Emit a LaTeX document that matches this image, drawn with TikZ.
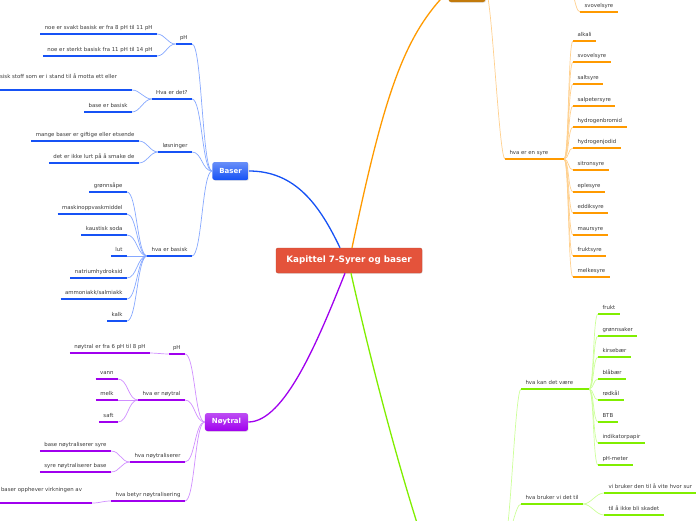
\documentclass[tikz,border=0pt]{standalone}
\usepackage{fontspec}
\setmainfont{DejaVu Sans}
\usepackage{xcolor}
\usepackage{tikz}
\usetikzlibrary{positioning,shadows}

\definecolor{ink}{HTML}{3A3A3A}
\definecolor{rootred}{HTML}{E4533B}
\definecolor{basblue}{HTML}{1652F5}
\definecolor{baslite}{HTML}{86A8FF}
\definecolor{noypurp}{HTML}{A000EE}
\definecolor{noylite}{HTML}{D08EFF}
\definecolor{syreorg}{HTML}{FF9A00}
\definecolor{syrelite}{HTML}{FFD08E}
\definecolor{syredark}{HTML}{C27A0C}
\definecolor{indgreen}{HTML}{80EE00}
\definecolor{indlite}{HTML}{CCFF99}

\begin{document}
\begin{tikzpicture}[
  x=1pt, y=-1pt,
  font=\fontsize{5.4}{6.5}\selectfont,
  root/.style={
    rectangle, rounded corners=2pt, fill=rootred, draw=rootred!85!black,
    line width=0.4pt, text=white, font=\bfseries\fontsize{8.8}{10}\selectfont,
    minimum width=146pt, minimum height=25pt, inner sep=0pt,
    drop shadow={opacity=0.2, shadow xshift=0.6pt, shadow yshift=-0.8pt}
  },
  mainbox/.style={
    rectangle, rounded corners=2.5pt, text=white,
    font=\bfseries\fontsize{7}{8}\selectfont,
    minimum height=18pt, inner xsep=7pt, inner ysep=0pt,
    drop shadow={opacity=0.2, shadow xshift=0.6pt, shadow yshift=-0.8pt}
  },
  topic/.style={
    text=ink, inner xsep=4.5pt, inner ysep=3.6pt,
    text height=4.1pt, text depth=1.3pt, outer sep=0pt
  },
  wide/.style={text depth=7.6pt, inner xsep=#1},
  fanl/.style={to path={.. controls +(-#1,0) and +(#1,0) .. (\tikztotarget)}},
  fanl/.default=10,
  fanr/.style={to path={.. controls +(#1,0) and +(-#1,0) .. (\tikztotarget)}},
  fanr/.default=6,
  ul/.style={line width=2.2pt, draw=#1},
  twig/.style={line width=0.7pt, draw=#1},
  branch/.style={line width=1.3pt, draw=#1}
]
  \useasboundingbox (0,0) rectangle (696,520);
  \clip (0,0) rectangle (696,520);

  %% centre and main topics
  \node[root] (root) at (349,260.5) {Kapittel 7-Syrer og baser};
  \node[mainbox, top color=basblue!65!white, bottom color=basblue] (baser) at (230.5,171) {Baser};
  \node[mainbox, top color=noypurp!70!white, bottom color=noypurp] (noyt) at (226.5,422) {Nøytral};
  \node[mainbox, fill=syredark, minimum width=37pt, minimum height=22pt] (syrer) at (467,-9) {};
  \node[mainbox, fill=indgreen, minimum width=84pt, minimum height=20pt] (indik) at (462,542) {};

  \draw[branch=basblue] ([xshift=-9pt]root.north) .. controls (320,206) and (296,171) .. (baser.east);
  \draw[branch=noypurp] ([xshift=-4pt]root.south) .. controls (319,338) and (285,422) .. (noyt.east);
  \draw[branch=syreorg] ([xshift=3pt]root.north) .. controls (385,90) and (405,35) .. (syrer.west);
  \draw[branch=indgreen] ([xshift=2pt]root.south) .. controls (375,380) and (400,470) .. (indik.north west);

  %% Baser
  \node[topic, anchor=south east] (bph) at (192,44) {pH};
  \node[topic, anchor=south east] (bsvak) at (157,34) {noe er svakt basisk er fra 8 pH til 11 pH};
  \node[topic, anchor=south east] (bsterk) at (157,56) {noe er sterkt basisk fra 11 pH til 14 pH};
  \node[topic, anchor=south east] (bdet) at (192,99) {Hva er det?};
  \node[topic, wide=15pt, anchor=south east] (bstoff) at (132,90) {basisk stoff som er i stand til å motta ett eller};
  \node[topic, anchor=south east] (bbasisk) at (132,112) {base er basisk};
  \node[topic, anchor=south east] (blos) at (192,152) {løsninger};
  \node[topic, anchor=south east] (bgift) at (139,141) {mange baser er giftige eller etsende};
  \node[topic, anchor=south east] (bsmak) at (139,163) {det er ikke lurt på å smake de};
  \node[topic, anchor=south east] (bhva) at (192,256) {hva er basisk};
  \node[topic, anchor=south east] (b1) at (127,192) {grønnsåpe};
  \node[topic, anchor=south east] (b2) at (127,214) {maskinoppvaskmiddel};
  \node[topic, anchor=south east] (b3) at (127,235) {kaustisk soda};
  \node[topic, anchor=south east] (b4) at (127,256) {lut};
  \node[topic, anchor=south east] (b5) at (127,278) {natriumhydroksid};
  \node[topic, anchor=south east] (b6) at (127,299) {ammoniakk/salmiakk};
  \node[topic, anchor=south east] (b7) at (127,321) {kalk};

  \foreach \n in {bph,bdet,blos,bhva} \draw[twig=baslite] (baser.west) to[fanl] (\n.south east);
  \foreach \n in {bsvak,bsterk} \draw[twig=baslite] (bph.south west) to[fanl=8] (\n.south east);
  \foreach \n in {bstoff,bbasisk} \draw[twig=baslite] (bdet.south west) to[fanl=8] (\n.south east);
  \foreach \n in {bgift,bsmak} \draw[twig=baslite] (blos.south west) to[fanl=8] (\n.south east);
  \foreach \n in {b1,b2,b3,b4,b5,b6,b7} \draw[twig=baslite] (bhva.south west) to[fanl] (\n.south east);
  \foreach \n in {bph,bsvak,bsterk,bdet,bstoff,bbasisk,blos,bgift,bsmak,bhva,b1,b2,b3,b4,b5,b6,b7}
    \draw[ul=basblue] (\n.south west) -- (\n.south east);

  %% Nøytral
  \node[topic, anchor=south east] (nph) at (185,354) {pH};
  \node[topic, anchor=south east] (nfra) at (150,353) {nøytral er fra 6 pH til 8 pH};
  \node[topic, anchor=south east] (nhva) at (185,400) {hva er nøytral};
  \node[topic, anchor=south east] (n1) at (118,379) {vann};
  \node[topic, anchor=south east] (n2) at (118,400) {melk};
  \node[topic, anchor=south east] (n3) at (118,422) {saft};
  \node[topic, anchor=south east] (nnoyt) at (185,462) {hva nøytraliserer};
  \node[topic, anchor=south east] (nbase) at (111,451) {base nøytraliserer syre};
  \node[topic, anchor=south east] (nsyre) at (111,472) {syre nøytraliserer base};
  \node[topic, anchor=south east] (nbetyr) at (185,501) {hva betyr nøytralisering};
  \node[topic, wide=10pt, anchor=south east] (nopph) at (92,503) {baser opphever virkningen av};

  \foreach \n in {nph,nhva,nnoyt,nbetyr} \draw[twig=noylite] (noyt.west) to[fanl] (\n.south east);
  \draw[twig=noylite] (nph.south west) to[fanl=6] (nfra.south east);
  \foreach \n in {n1,n2,n3} \draw[twig=noylite] (nhva.south west) to[fanl=10] (\n.south east);
  \foreach \n in {nbase,nsyre} \draw[twig=noylite] (nnoyt.south west) to[fanl=9] (\n.south east);
  \draw[twig=noylite] (nbetyr.south west) to[fanl=9] (nopph.south east);
  \foreach \n in {nph,nfra,nhva,n1,n2,n3,nnoyt,nbase,nsyre,nbetyr,nopph}
    \draw[ul=noypurp] (\n.south west) -- (\n.south east);

  %% Syrer (top, mostly outside)
  \coordinate (svj) at (565,-30);
  \node[topic, anchor=south west] (sv0) at (580,12) {svovelsyre};
  \node[topic, anchor=south west] (syre) at (505,159) {hva er en syre};
  \coordinate (syrej) at (564,159);
  \node[topic, anchor=south west] (s1) at (573,41) {alkali};
  \node[topic, anchor=south west] (s2) at (573,62) {svovelsyre};
  \node[topic, anchor=south west] (s3) at (573,84) {saltsyre};
  \node[topic, anchor=south west] (s4) at (573,106) {salpetersyre};
  \node[topic, anchor=south west] (s5) at (573,127) {hydrogenbromid};
  \node[topic, anchor=south west] (s6) at (573,148) {hydrogenjodid};
  \node[topic, anchor=south west] (s7) at (573,170) {sitronsyre};
  \node[topic, anchor=south west] (s8) at (573,192) {eplesyre};
  \node[topic, anchor=south west] (s9) at (573,213) {eddiksyre};
  \node[topic, anchor=south west] (s10) at (573,235) {maursyre};
  \node[topic, anchor=south west] (s11) at (573,256) {fruktsyre};
  \node[topic, anchor=south west] (s12) at (573,277) {melkesyre};

  \draw[twig=syrelite] (svj) to[fanr] (sv0.south west);
  \draw[twig=syrelite] (syrer.east) to[fanr] (syre.south west);
  \foreach \n in {s1,s2,s3,s4,s5,s6,s7,s8,s9,s10,s11,s12} \draw[twig=syrelite] (syrej) to[fanr=5] (\n.south west);
  \draw[ul=syreorg] (syre.south west) -- (syrej);
  \foreach \n in {sv0,s1,s2,s3,s4,s5,s6,s7,s8,s9,s10,s11,s12}
    \draw[ul=syreorg] (\n.south west) -- (\n.south east);

  %% indikatorer (bottom, mostly outside)
  \node[topic, anchor=south west] (gkan) at (521,389) {hva kan det være};
  \coordinate (gkanj) at (589,389);
  \node[topic, anchor=south west] (g1) at (598,314) {frukt};
  \node[topic, anchor=south west] (g2) at (598,336) {grønnsaker};
  \node[topic, anchor=south west] (g3) at (598,357) {kirsebær};
  \node[topic, anchor=south west] (g4) at (598,379) {blåbær};
  \node[topic, anchor=south west] (g5) at (598,400) {rødkål};
  \node[topic, anchor=south west] (g6) at (598,422) {BTB};
  \node[topic, anchor=south west] (g7) at (598,443) {indikatorpapir};
  \node[topic, anchor=south west] (g8) at (598,465) {pH-meter};
  \node[topic, anchor=south west] (gbruk) at (521,504) {hva bruker vi det til};
  \node[topic, anchor=south west] (gvite) at (604,493) {vi bruker den til å vite hvor sur};
  \node[topic, anchor=south west] (gskade) at (604,515) {til å ikke bli skadet};

  \foreach \n in {gkan,gbruk} \draw[twig=indlite] (indik.east) to[fanr] (\n.south west);
  \foreach \n in {g1,g2,g3,g4,g5,g6,g7,g8} \draw[twig=indlite] (gkanj) to[fanr=5] (\n.south west);
  \foreach \n in {gvite,gskade} \draw[twig=indlite] (gbruk.south east) to[fanr=8] (\n.south west);
  \draw[ul=indgreen] (gkan.south west) -- (gkanj);
  \foreach \n in {g1,g2,g3,g4,g5,g6,g7,g8,gbruk,gvite,gskade}
    \draw[ul=indgreen] (\n.south west) -- (\n.south east);
\end{tikzpicture}
\end{document}
